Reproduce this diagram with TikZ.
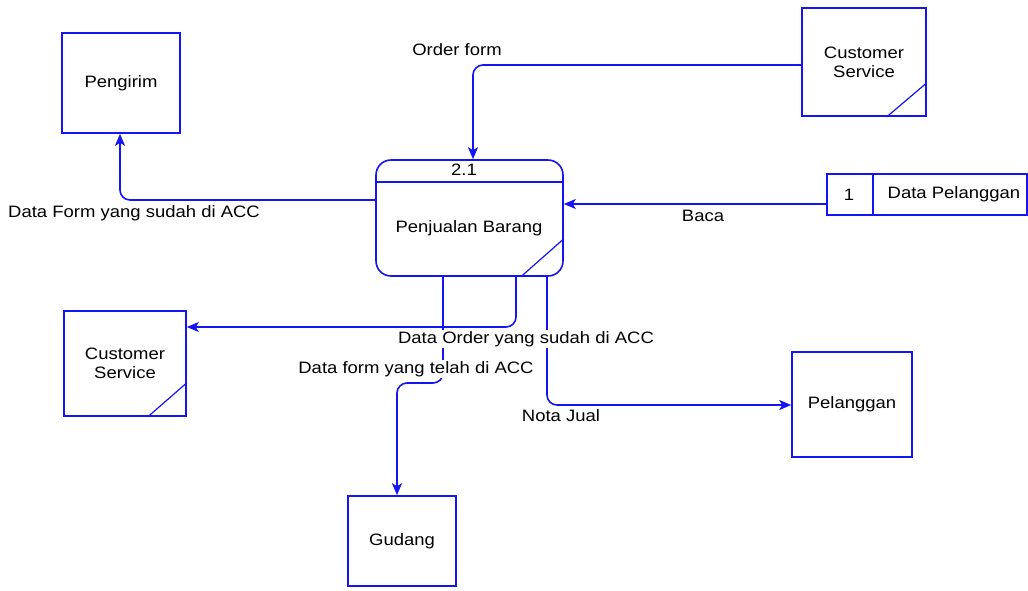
\documentclass[tikz,border=0pt]{standalone}
\usepackage{fontspec}
\setmainfont{Liberation Sans}[FakeStretch=1.12]
\usetikzlibrary{arrows.meta,calc}
\definecolor{dfdblue}{RGB}{20,20,245}
\tikzset{
  ent/.style={draw=dfdblue,line width=1.6pt,minimum width=#1,inner sep=2pt,align=center,font=\fontsize{16.5}{19}\selectfont},
  lbl/.style={fill=white,inner sep=1.5pt,font=\fontsize{16.5}{19}\selectfont},
  txt/.style={font=\fontsize{16.5}{19}\selectfont},
  flowline/.style={draw=dfdblue,line width=1.6pt,rounded corners=10pt},
  flow/.style={flowline,-{Stealth[length=12pt,width=10pt,inset=3pt]}}
}
\begin{document}
\begin{tikzpicture}[x=1pt,y=-1pt]
\useasboundingbox[fill=white] (0,0) rectangle (1028,590);
% external entities
\node[ent=118pt,minimum height=100pt] (peng) at (121,83) {Pengirim};
\node[ent=124pt,minimum height=108pt] (csa) at (864,62) {Customer\\Service};
\node[ent=122pt,minimum height=105pt] (csb) at (125,363.5) {Customer\\Service};
\node[ent=120pt,minimum height=105pt] (pel) at (852,404.5) {Pelanggan};
\node[ent=108pt,minimum height=90pt] (gud) at (402,541) {Gudang};
\draw[dfdblue,line width=1.2pt] ($(csa.south east)+(-40,0)$) -- ($(csa.south east)+(0,-34)$);
\draw[dfdblue,line width=1.2pt] ($(csb.south east)+(-39,0)$) -- ($(csb.south east)+(0,-34)$);
% process
\node[ent=187pt,minimum height=116pt,rounded corners=15pt] (proc) at (469.5,218) {};
\draw[dfdblue,line width=1.6pt] (proc.west |- 0,182) -- (proc.east |- 0,182);
\draw[dfdblue,line width=1.2pt] ($(proc.south east)+(-43,0)$) -- ($(proc.south east)+(0,-38)$);
\node[txt] (pnum) at (464,170) {2.1};
\node[txt] (pname) at (469,228) {Penjualan Barang};
% data store
\node[ent=200pt,minimum height=41pt] (store) at (927,194.5) {};
\draw[dfdblue,line width=1.6pt] (873,174) -- (873,215);
\node[txt] (sid) at (849,194.5) {1};
\node[txt] (sname) at (954,194.5) {Data Pelanggan};
% flows
\draw[flow] (csa.west |- 0,65) -| (proc.north -| 473,0);
\draw[flow] (proc.west |- 0,200) -| (peng.south -| 120,0);
\draw[flow] (store.west |- 0,204) -- (proc.east |- 0,204);
\draw[flow] (proc.south -| 516,0) |- (csb.east |- 0,327);
\draw[flow] (proc.south -| 443,0) -- (443,383) -| (gud.north -| 397,0);
\draw[flow] (proc.south -| 547,0) |- (pel.west |- 0,405);
% labels
\node[lbl] (l1) at (457,50) {Order form};
\node[lbl] (l2) at (134,213) {Data Form yang sudah di ACC};
\node[lbl] (l3) at (703,216) {Baca};
\node[lbl] (l4) at (526,339) {Data Order yang sudah di ACC};
\node[lbl] (l5) at (416,369) {Data form yang telah di ACC};
\node[lbl] (l6) at (561,416) {Nota Jual};
\end{tikzpicture}
\end{document}
